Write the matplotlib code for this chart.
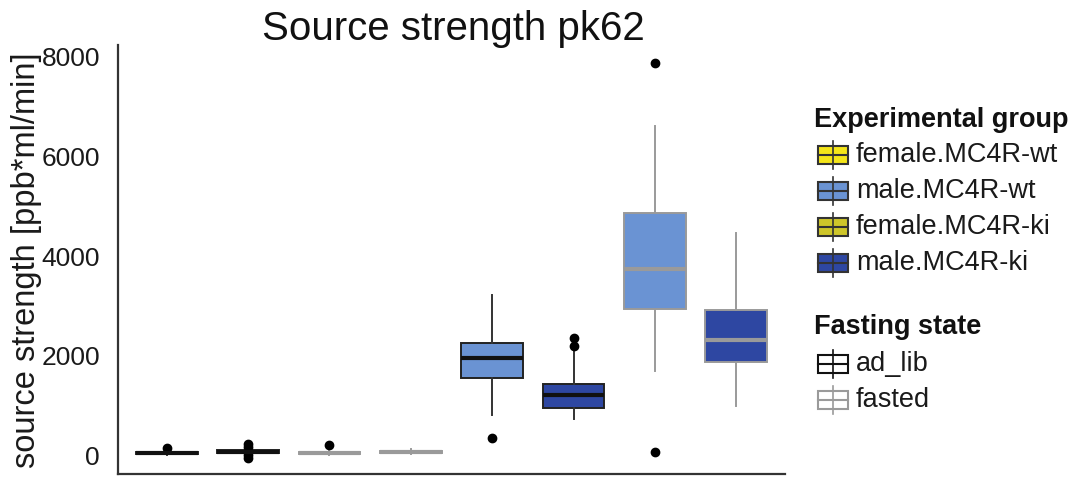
import matplotlib
matplotlib.use('Agg')
import matplotlib.pyplot as plt
from matplotlib.patches import Rectangle

plt.rcParams['font.family'] = ['Liberation Sans', 'DejaVu Sans']

# group / fasting state of each box, left to right
groups = ['female.MC4R-wt', 'female.MC4R-ki', 'female.MC4R-wt', 'female.MC4R-ki',
          'male.MC4R-wt', 'male.MC4R-ki', 'male.MC4R-wt', 'male.MC4R-ki']
fasting = ['ad_lib', 'ad_lib', 'fasted', 'fasted',
           'ad_lib', 'ad_lib', 'fasted', 'fasted']

# box statistics
whislo = [10, 20, 15, 30, 810, 730, 1700, 990]
q1 = [40, 50, 40, 55, 1560, 950, 2940, 1880]
med = [60, 80, 55, 75, 1965, 1215, 3745, 2310]
q3 = [80, 110, 75, 95, 2250, 1440, 4860, 2915]
whishi = [120, 150, 110, 140, 3220, 2100, 6600, 4455]
fliers = [[160], [230, 170, 10, -40], [220], [], [365], [2350, 2190], [7860, 80], []]

group_colors = {'female.MC4R-wt': '#F4E519', 'male.MC4R-wt': '#6A93D3',
                'female.MC4R-ki': '#CEC62A', 'male.MC4R-ki': '#2E47A2'}
state_colors = {'ad_lib': '#111111', 'fasted': '#9A9A9A'}

fig = plt.figure(figsize=(10.74, 4.79), dpi=100)
ax = fig.add_axes([118 / 1074, 5 / 479, 667 / 1074, 429 / 479])

stats = []
for i in range(len(groups)):
    stats.append(dict(whislo=whislo[i], q1=q1[i], med=med[i], q3=q3[i],
                      whishi=whishi[i], fliers=fliers[i]))

positions = list(range(1, len(groups) + 1))
bp = ax.bxp(stats, positions=positions, widths=0.76, patch_artist=True,
            showcaps=False,
            flierprops=dict(marker='o', markerfacecolor='black',
                            markeredgecolor='black', markersize=6))

for i in range(len(groups)):
    ec = state_colors[fasting[i]]
    box = bp['boxes'][i]
    box.set_facecolor(group_colors[groups[i]])
    box.set_edgecolor(ec if fasting[i] == 'fasted' else '#222222')
    box.set_linewidth(1.4)
    bp['medians'][i].set_color(ec)
    bp['medians'][i].set_linewidth(3.0)
    for w in bp['whiskers'][2 * i:2 * i + 2]:
        w.set_color('#333333' if fasting[i] == 'ad_lib' else ec)
        w.set_linewidth(1.4)

ax.set_xlim(0.4, 8.6)
ax.set_ylim(-365, 8225)
ax.set_yticks([0, 2000, 4000, 6000, 8000])
ax.set_xticks([])
ax.tick_params(axis='y', length=0, pad=13, labelsize=19, labelcolor='#1a1a1a')
for side in ['top', 'right']:
    ax.spines[side].set_visible(False)
for side in ['left', 'bottom']:
    ax.spines[side].set_color('#333333')
    ax.spines[side].set_linewidth(1.6)

fig.text(27 / 1074, 1 - 260 / 479, 'source strength [ppb*ml/min]', rotation=90,
         ha='center', va='center', fontsize=23.5, color='#1a1a1a')
fig.text(453 / 1074, 1 - 29 / 479, 'Source strength pk62', ha='center',
         va='center', fontsize=29, color='#111111')

# legend drawn in pixel coordinates
lg = fig.add_axes([0, 0, 1, 1])
lg.set_xlim(0, 1074)
lg.set_ylim(479, 0)
lg.axis('off')


def key(y, fc, ec):
    lg.plot([833, 833], [y - 14, y + 14], color=ec, lw=1.2)
    lg.add_patch(Rectangle((818, y - 9), 30, 18, facecolor=fc, edgecolor=ec, lw=1.5))
    lg.plot([818, 848], [y, y], color=ec, lw=1.5)


lg.text(814, 120, 'Experimental group', fontsize=19.5, fontweight='bold',
        va='center', ha='left', color='#111111')
group_names = ['female.MC4R-wt', 'male.MC4R-wt', 'female.MC4R-ki', 'male.MC4R-ki']
for j, name in enumerate(group_names):
    y = 155 + j * 36
    key(y, group_colors[name], '#333333')
    lg.text(856, y, name, fontsize=19.5, va='center', ha='left', color='#1a1a1a')

lg.text(814, 327, 'Fasting state', fontsize=19.5, fontweight='bold',
        va='center', ha='left', color='#111111')
for j, name in enumerate(['ad_lib', 'fasted']):
    y = 364 + j * 36
    key(y, 'white', state_colors[name])
    lg.text(856, y, name, fontsize=19.5, va='center', ha='left', color='#1a1a1a')

fig.savefig('out.png', dpi=100)
